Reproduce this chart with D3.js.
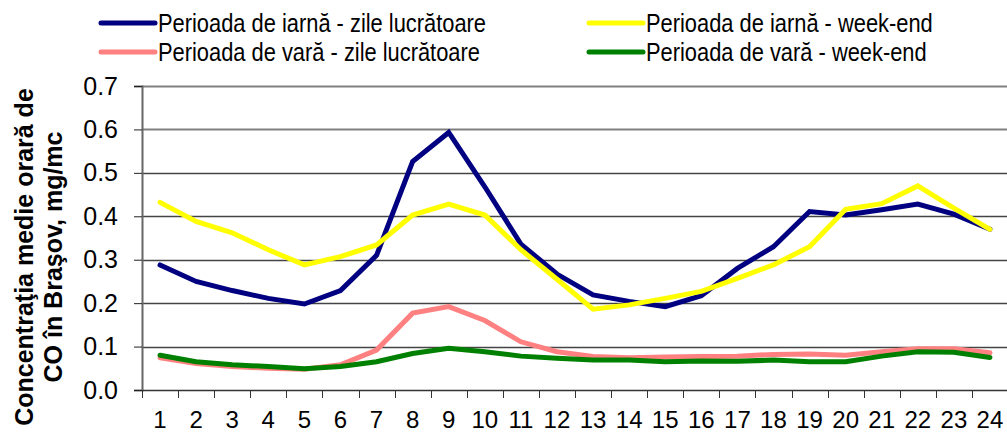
<!DOCTYPE html>
<html>
<head>
<meta charset="utf-8">
<script src="https://cdn.jsdelivr.net/npm/d3@7"></script>
<style>
  body { margin: 0; background: #fff; }
  svg { font-family: "Liberation Sans", Arial, sans-serif; display: block; }
</style>
</head>
<body>
<svg id="svg"></svg>
<script>
// hours of the day
const hours = d3.range(1, 25);

const iarnaLucru = [0.288, 0.250, 0.229, 0.211, 0.198, 0.229, 0.310, 0.526, 0.593, 0.468, 0.336, 0.267,
                    0.219, 0.204, 0.192, 0.217, 0.280, 0.330, 0.411, 0.403, 0.415, 0.428, 0.405, 0.370];
const iarnaWeekend = [0.432, 0.388, 0.362, 0.323, 0.288, 0.307, 0.334, 0.403, 0.428, 0.403, 0.323, 0.255,
                      0.186, 0.196, 0.211, 0.227, 0.257, 0.288, 0.330, 0.416, 0.429, 0.470, 0.419, 0.370];
const varaLucru = [0.074, 0.061, 0.054, 0.050, 0.048, 0.058, 0.092, 0.177, 0.192, 0.160, 0.111, 0.088,
                   0.077, 0.074, 0.076, 0.077, 0.078, 0.082, 0.083, 0.080, 0.088, 0.095, 0.095, 0.086];
const varaWeekend = [0.080, 0.065, 0.058, 0.054, 0.049, 0.054, 0.065, 0.084, 0.096, 0.088, 0.078, 0.073,
                     0.069, 0.069, 0.065, 0.067, 0.066, 0.069, 0.065, 0.065, 0.078, 0.088, 0.087, 0.075];

const yTicks = [0, 0.1, 0.2, 0.3, 0.4, 0.5, 0.6, 0.7];

const series = [
  { name: "Perioada de iarnă - zile lucrătoare", values: iarnaLucru, color: "#000080" },
  { name: "Perioada de iarnă - week-end", values: iarnaWeekend, color: "#ffff00" },
  { name: "Perioada de vară - zile lucrătoare", values: varaLucru, color: "#ff8080" },
  { name: "Perioada de vară - week-end", values: varaWeekend, color: "#008000" }
];

const w = 1007;
const h = 432;
const plot = { left: 142, right: 1008, top: 86, bottom: 390 };

let svg = d3.select("#svg").attr("width", w).attr("height", h);

const xScale = d3.scaleBand()
                 .domain(hours)
                 .range([plot.left, plot.right]);
const yScale = d3.scaleLinear()
                 .domain([0, 0.7])
                 .range([plot.bottom, plot.top]);

// gridlines
svg.append("g")
   .selectAll("line")
   .data(yTicks.filter(d => d > 0))
   .enter()
   .append("line")
   .attr("x1", plot.left)
   .attr("x2", w)
   .attr("y1", d => Math.round(yScale(d)) + 0.5)
   .attr("y2", d => Math.round(yScale(d)) + 0.5)
   .attr("stroke", d => d >= 0.6 ? "#808080" : "#444")
   .attr("stroke-width", d => d >= 0.6 ? 2 : 1.3);

// y axis
const yAxis = d3.axisLeft(yScale)
                .tickValues(yTicks)
                .tickFormat(d3.format(".1f"))
                .tickSize(8)
                .tickPadding(16);
const gy = svg.append("g")
   .attr("transform", "translate(" + plot.left + ",0)")
   .call(yAxis);
gy.select(".domain").attr("stroke", "#666").attr("stroke-width", 2);
gy.selectAll(".tick line").attr("stroke", "#222");
gy.selectAll("text")
  .style("font-size", "25px")
  .attr("fill", "#000")
  .style("font-family", "Liberation Sans, Arial, sans-serif");

// x axis
const xAxis = d3.axisBottom(xScale).tickSize(0).tickPadding(21);
const gx = svg.append("g")
   .attr("transform", "translate(0," + plot.bottom + ")")
   .call(xAxis);
gx.select(".domain").attr("stroke", "#333").attr("stroke-width", 1.5);
gx.selectAll("text")
  .style("font-size", "24px")
  .attr("fill", "#000")
  .style("font-family", "Liberation Sans, Arial, sans-serif");

// category boundary ticks
svg.append("g")
   .selectAll("line")
   .data(hours)
   .enter()
   .append("line")
   .attr("x1", d => Math.round(xScale(d)) + 0.5)
   .attr("x2", d => Math.round(xScale(d)) + 0.5)
   .attr("y1", plot.bottom)
   .attr("y2", plot.bottom + 8)
   .attr("stroke", "#333");

// lines
const line = d3.line()
               .x((d, i) => xScale(hours[i]) + xScale.bandwidth() / 2)
               .y(d => yScale(d));

svg.append("g")
   .selectAll("path")
   .data(series)
   .enter()
   .append("path")
   .attr("d", d => line(d.values))
   .attr("fill", "none")
   .attr("stroke", d => d.color)
   .attr("stroke-width", 5)
   .attr("stroke-linejoin", "miter")
   .attr("stroke-linecap", "round");

// legend
const legendPos = [[101, 23], [589, 23], [101, 52], [589, 52]];
const legend = svg.append("g")
   .selectAll("g")
   .data(series)
   .enter()
   .append("g")
   .attr("transform", (d, i) => "translate(" + legendPos[i][0] + "," + legendPos[i][1] + ")");
legend.append("line")
   .attr("x1", 0).attr("x2", 54)
   .attr("y1", 0).attr("y2", 0)
   .attr("stroke", d => d.color)
   .attr("stroke-width", 5)
   .attr("stroke-linecap", "round");
legend.append("text")
   .attr("transform", "translate(57,9) scale(0.875,1)")
   .style("font-size", "25px")
   .text(d => d.name);

// y axis title
svg.append("text")
   .attr("transform", "translate(33,257) rotate(-90)")
   .attr("text-anchor", "middle")
   .style("font-size", "25px")
   .style("font-weight", "bold")
   .selectAll("tspan")
   .data(["Concentraţia medie orară de", "CO în Braşov, mg/mc"])
   .enter()
   .append("tspan")
   .attr("x", 0)
   .attr("dy", (d, i) => i === 0 ? 0 : 29)
   .text(d => d);
</script>
</body>
</html>
